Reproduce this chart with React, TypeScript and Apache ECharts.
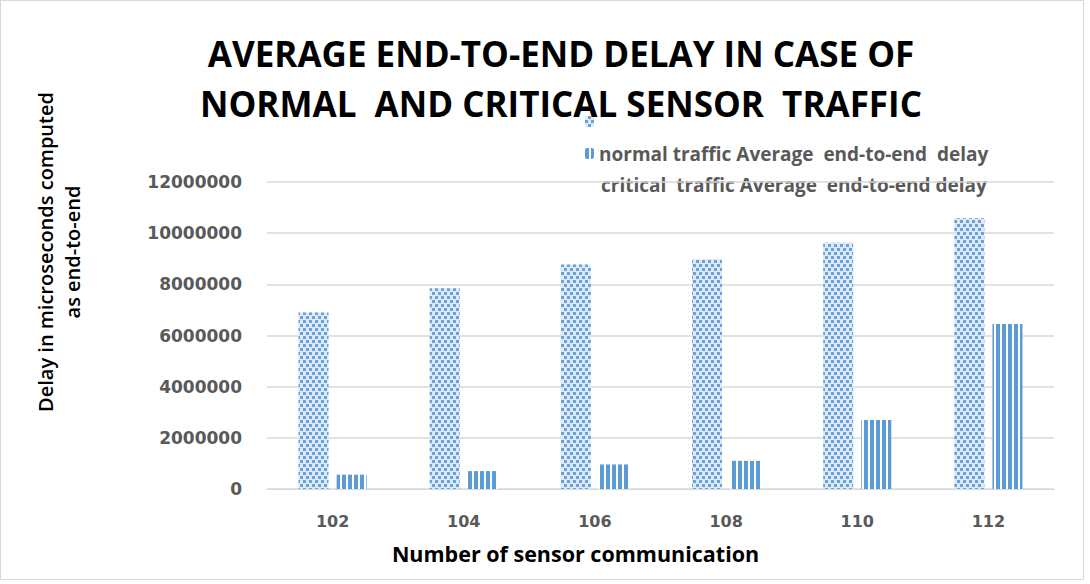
import React, { useEffect, useRef } from "react";
import * as echarts from "echarts";

const categories = ["102", "104", "106", "108", "110", "112"];
const normalValues = [6900000, 7850000, 8780000, 8980000, 9630000, 10580000];
const criticalValues = [560000, 700000, 960000, 1100000, 2700000, 6450000];
const titleLines = ["AVERAGE END-TO-END DELAY IN CASE OF", "NORMAL  AND CRITICAL SENSOR  TRAFFIC"];
const legendNormal = "normal traffic Average  end-to-end  delay";
const legendCritical = "critical  traffic Average  end-to-end delay";
const yAxisName = "Delay in microseconds computed\nas end-to-end";
const xAxisName = "Number of sensor communication";

export default function App() {
  const ref = useRef<HTMLDivElement>(null);
  useEffect(() => {
    const chart = echarts.init(ref.current!, null, { renderer: "svg" });
    const font = "'Open Sans', sans-serif";
    const tickFont = "'DejaVu Sans', sans-serif";
    chart.setOption({
      animation: false,
      textStyle: { fontFamily: font },
      title: {
        text: titleLines.join("\n"),
        left: 556,
        textAlign: "center",
        top: 23,
        textStyle: { fontSize: 35, fontWeight: "bold", color: "#000", lineHeight: 50, fontFamily: font },
      },
      legend: {
        orient: "vertical",
        left: 580,
        top: 111,
        itemWidth: 9,
        itemHeight: 11,
        itemGap: 17,
        data: ["dotted", "striped"],
        formatter: (name: string) => (name === "striped" ? legendNormal : ""),
        textStyle: { fontSize: 19, fontWeight: "bold", color: "#595959", fontFamily: font },
      },
      graphic: [
        {
          type: "text",
          left: 601,
          top: 175,
          style: { text: legendCritical, fontSize: 19, fontWeight: "bold", fill: "#595959", fontFamily: font },
        },
        {
          type: "text",
          x: 59,
          y: 252,
          rotation: Math.PI / 2,
          style: {
            text: yAxisName,
            textAlign: "center",
            textVerticalAlign: "middle",
            fontSize: 20,
            lineHeight: 27,
            fontWeight: 600,
            fill: "#000",
            fontFamily: font,
          },
        },
      ],
      grid: { left: 267, right: 36, top: 182, bottom: 95 },
      xAxis: {
        type: "category",
        data: categories,
        name: xAxisName,
        nameLocation: "middle",
        nameGap: 53,
        nameTextStyle: { fontSize: 21.5, fontWeight: "bold", color: "#000", fontFamily: font, padding: [0, 170, 0, 0] },
        axisTick: { show: false },
        axisLine: { lineStyle: { color: "#d9d9d9" } },
        axisLabel: { fontSize: 16, fontWeight: "bold", color: "#595959", margin: 24, fontFamily: tickFont },
      },
      yAxis: {
        type: "value",
        min: 0,
        max: 12000000,
        interval: 2000000,
        axisLine: { show: false },
        axisTick: { show: false },
        axisLabel: {
          fontSize: 17,
          fontWeight: "bold",
          color: "#595959",
          margin: 25,
          fontFamily: tickFont,
          formatter: (v: number) => String(v),
        },
        splitLine: { lineStyle: { color: "#d9d9d9", width: 1.5 } },
      },
      series: [
        {
          name: "dotted",
          type: "bar",
          data: normalValues,
          barWidth: 30,
          barGap: "27%",
          itemStyle: {
            color: "#dde9f6",
            decal: {
              symbol: "rect",
              symbolSize: 1,
              color: "#6aa3d8",
              dashArrayX: [[3, 3], [0, 3, 3, 0]],
              dashArrayY: [3, 1],
              rotation: 0,
            },
          },
        },
        {
          name: "striped",
          type: "bar",
          data: criticalValues,
          barWidth: 30,
          itemStyle: {
            color: "#ffffff",
            decal: {
              symbol: "rect",
              symbolSize: 1,
              color: "#5b9bd5",
              dashArrayX: [4, 2],
              dashArrayY: [1, 0],
              rotation: 0,
            },
          },
        },
      ],
    });
    return () => chart.dispose();
  }, []);
  return (
    <div style={{ position: "absolute", left: 0, top: 0, width: 1090, height: 584, background: "#fff" }}>
      <div
        style={{ position: "absolute", left: 0, top: 0, width: 1084, height: 580, border: "1px solid #d9d9d9", boxSizing: "border-box" }}
      />
      <div ref={ref} style={{ position: "absolute", left: 0, top: 0, width: 1090, height: 584 }} />
    </div>
  );
}
